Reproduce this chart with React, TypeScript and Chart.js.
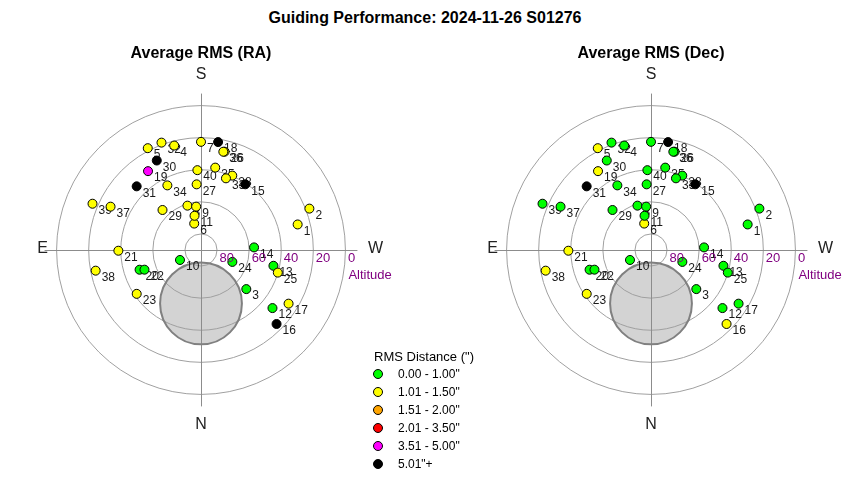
import React, { useEffect, useRef } from "react";
import { Chart, registerables } from "chart.js";

Chart.register(...registerables);

// ---- Data ----
const pointLabels = [
  "1", "2", "3", "4", "5", "6", "7", "8", "9", "10",
  "11", "12", "13", "14", "15", "16", "17", "18", "19", "20",
  "21", "22", "23", "24", "25", "26", "27", "28", "29", "30",
  "31", "32", "33", "34", "35", "36", "37", "38", "39", "40",
];
// azimuth in degrees (N = 0, E = 90, S = 180, W = 270)
const azimuth = [
  255.2, 249.1, 310.8, 165.6, 152.4, 165.6, 180.0, 163.0, 173.6, 64.6,
  169.3, 309.1, 282.3, 267.2, 214.0, 314.4, 301.5, 189.0, 146.1, 72.2,
  89.5, 70.8, 55.7, 290.8, 286.4, 193.5, 176.2, 202.8, 136.1, 153.7,
  134.7, 159.8, 199.2, 152.5, 189.8, 192.8, 115.6, 78.9, 113.1, 177.4,
];
// altitude in degrees
const altitude = [
  27.7, 17.7, 52.7, 22.8, 18.4, 73.0, 22.6, 61.1, 62.8, 75.5,
  68.3, 32.6, 43.8, 56.9, 40.6, 24.1, 26.0, 21.9, 30.8, 49.8,
  38.5, 52.7, 41.5, 69.1, 40.1, 27.0, 49.0, 39.7, 55.4, 27.8,
  33.6, 18.7, 42.7, 44.6, 37.9, 27.2, 27.5, 23.1, 16.5, 40.2,
];
// RMS category index per point (0..5, see legendLabels)
const raCategory = [
  1, 1, 0, 1, 1, 1, 1, 1, 1, 0,
  1, 0, 0, 0, 5, 5, 1, 5, 4, 0,
  1, 0, 1, 0, 1, 1, 1, 1, 1, 5,
  5, 1, 1, 1, 1, 1, 1, 1, 1, 1,
];
const decCategory = [
  0, 0, 0, 0, 1, 1, 0, 0, 0, 0,
  0, 0, 0, 0, 5, 1, 0, 5, 1, 0,
  1, 0, 1, 0, 0, 0, 0, 0, 0, 0,
  5, 0, 0, 0, 0, 0, 0, 1, 0, 0,
];
const legendLabels = [
  "0.00 - 1.00\"",
  "1.01 - 1.50\"",
  "1.51 - 2.00\"",
  "2.01 - 3.50\"",
  "3.51 - 5.00\"",
  "5.01\"+",
];
const categoryColors = ["#00ff00", "#ffff00", "#ffa500", "#ff0000", "#ff00ff", "#000000"];
const altitudeRings = [80, 60, 40, 20, 0];
const directionLabels = ["S", "E", "W", "N"];
// unreachable zone (az, alt, radius in degrees)
const zoneAzimuth = 0;
const zoneAltitude = 56.7;
const zoneRadius = 25.5;

const FONT = '"Liberation Sans", Arial, Helvetica, sans-serif';
const R = 121.21; // half-span of canvas in degrees of zenith distance
const CANVAS = 400;

function toXY(az: number, alt: number) {
  const zd = 90 - alt;
  const a = (az * Math.PI) / 180;
  return { x: -zd * Math.sin(a), y: -zd * Math.cos(a) };
}

const polarPlugin = {
  id: "polarGrid",
  beforeDatasetsDraw(chart: any) {
    const ctx = chart.ctx;
    const xs = chart.scales.x;
    const ys = chart.scales.y;
    const cx = xs.getPixelForValue(0);
    const cy = ys.getPixelForValue(0);
    const k = xs.getPixelForValue(1) - cx;
    const horizon = 90 * k;
    ctx.save();
    // zone fill
    const z = toXY(zoneAzimuth, zoneAltitude);
    const zx = xs.getPixelForValue(z.x);
    const zy = ys.getPixelForValue(z.y);
    const zr = zoneRadius * k;
    ctx.beginPath();
    ctx.arc(zx, zy, zr, 0, Math.PI * 2);
    ctx.fillStyle = "#d3d3d3";
    ctx.fill();
    // rings
    ctx.strokeStyle = "#a0a0a0";
    ctx.lineWidth = 1;
    altitudeRings.forEach((alt) => {
      ctx.beginPath();
      ctx.arc(cx, cy, (90 - alt) * k, 0, Math.PI * 2);
      ctx.stroke();
    });
    // axes
    ctx.strokeStyle = "#8c8c8c";
    const ext = horizon + 12;
    ctx.beginPath();
    ctx.moveTo(Math.round(cx) + 0.5, cy - ext);
    ctx.lineTo(Math.round(cx) + 0.5, cy + ext);
    ctx.moveTo(cx - ext, Math.round(cy) + 0.5);
    ctx.lineTo(cx + ext, Math.round(cy) + 0.5);
    ctx.stroke();
    // zone border
    ctx.beginPath();
    ctx.arc(zx, zy, zr, 0, Math.PI * 2);
    ctx.strokeStyle = "#808080";
    ctx.lineWidth = 2;
    ctx.stroke();
    // point labels (under markers)
    const meta = chart.getDatasetMeta(0);
    ctx.font = "12px " + FONT;
    ctx.fillStyle = "#1a1a1a";
    ctx.textAlign = "left";
    ctx.textBaseline = "middle";
    meta.data.forEach((el: any, i: number) => {
      ctx.fillText(pointLabels[i], el.x + 6, el.y + 7);
    });
    ctx.restore();
  },
  afterDraw(chart: any) {
    const ctx = chart.ctx;
    const xs = chart.scales.x;
    const ys = chart.scales.y;
    const cx = xs.getPixelForValue(0);
    const cy = ys.getPixelForValue(0);
    const k = xs.getPixelForValue(1) - cx;
    const horizon = 90 * k;
    ctx.save();
    // altitude labels
    ctx.font = "13px " + FONT;
    ctx.fillStyle = "#800080";
    ctx.textAlign = "left";
    ctx.textBaseline = "middle";
    altitudeRings.forEach((alt) => {
      ctx.fillText(String(alt), cx + (90 - alt) * k + 2.5, cy + 8);
    });
    ctx.fillText("Altitude", cx + horizon + 3, cy + 25);
    // directions
    ctx.font = "16px " + FONT;
    ctx.fillStyle = "#222";
    ctx.textAlign = "center";
    ctx.fillText(directionLabels[0], cx, cy - 175);
    ctx.fillText(directionLabels[3], cx, cy + 175);
    ctx.textAlign = "right";
    ctx.fillText(directionLabels[1], cx - 153, cy - 1);
    ctx.textAlign = "left";
    ctx.fillText(directionLabels[2], cx + 167, cy - 1);
    ctx.restore();
  },
};

function PolarChart({ category, left, top }: { category: number[]; left: number; top: number }) {
  const ref = useRef<HTMLCanvasElement | null>(null);
  useEffect(() => {
    if (!ref.current) return;
    const points = azimuth.map((az, i) => toXY(az, altitude[i]));
    const chart = new Chart(ref.current, {
      type: "scatter",
      data: {
        datasets: [
          {
            data: points,
            pointBackgroundColor: category.map((c) => categoryColors[c]),
            pointBorderColor: "#000000",
            pointBorderWidth: 1,
            pointRadius: 4.5,
            pointHoverRadius: 4.5,
          },
        ],
      },
      options: {
        animation: false,
        responsive: false,
        events: [],
        layout: { padding: 0 },
        plugins: {
          legend: { display: false },
          tooltip: { enabled: false },
          title: { display: false },
        },
        scales: {
          x: { type: "linear", min: -R, max: R, display: false },
          y: { type: "linear", min: -R, max: R, display: false },
        },
      } as any,
      plugins: [polarPlugin],
    });
    return () => chart.destroy();
  }, [category]);
  return (
    <canvas
      ref={ref}
      width={CANVAS}
      height={CANVAS}
      style={{ position: "absolute", left, top, width: CANVAS, height: CANVAS }}
    />
  );
}

export default function App() {
  const titleStyle: React.CSSProperties = {
    position: "absolute",
    fontWeight: "bold",
    fontSize: 16,
    lineHeight: "18px",
    textAlign: "center",
    color: "#000",
    zIndex: 2,
  };
  return (
    <div
      style={{
        position: "absolute",
        left: 0,
        top: 0,
        width: 850,
        height: 480,
        background: "#fff",
        fontFamily: FONT,
        overflow: "hidden",
      }}
    >
      <div style={{ ...titleStyle, left: 0, top: 9, width: 850 }}>Guiding Performance: 2024-11-26 S01276</div>
      <div style={{ ...titleStyle, left: 51, top: 44, width: 300 }}>Average RMS (RA)</div>
      <div style={{ ...titleStyle, left: 501, top: 44, width: 300 }}>Average RMS (Dec)</div>
      <PolarChart category={raCategory} left={1} top={50} />
      <PolarChart category={decCategory} left={451} top={50} />
      <div style={{ position: "absolute", left: 374, top: 349, fontSize: 13, lineHeight: "16px", color: "#000" }}>
        RMS Distance (")
      </div>
      {legendLabels.map((lab, i) => (
        <div key={lab} style={{ position: "absolute", left: 373, top: 366 + i * 18, height: 16, width: 120 }}>
          <span
            style={{
              position: "absolute",
              left: 0,
              top: 3,
              width: 8,
              height: 8,
              borderRadius: "50%",
              background: categoryColors[i],
              border: "1px solid #000",
            }}
          />
          <span style={{ position: "absolute", left: 25, top: 0, fontSize: 12, lineHeight: "16px", color: "#000" }}>
            {lab}
          </span>
        </div>
      ))}
    </div>
  );
}
